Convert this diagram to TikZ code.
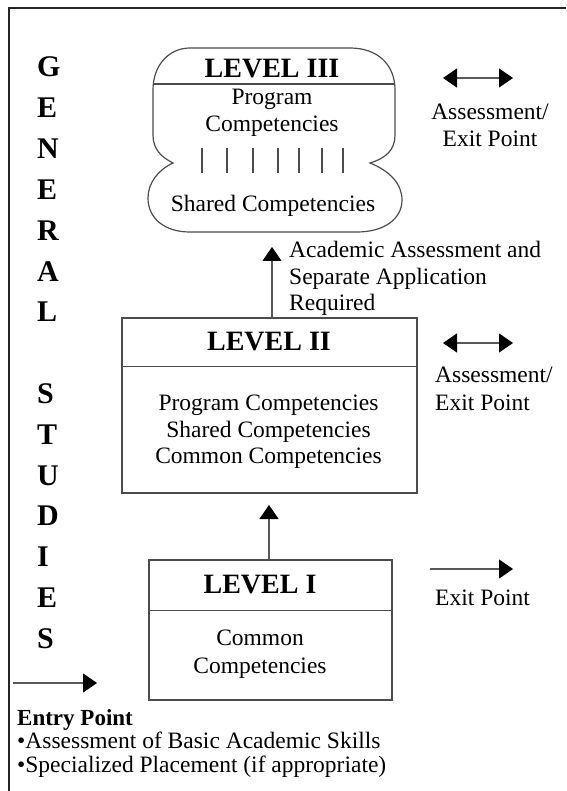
\documentclass[tikz,border=0pt]{standalone}
\usepackage{fontspec}
\setmainfont{Liberation Serif}
\usetikzlibrary{arrows.meta}

\begin{document}
\begin{tikzpicture}[x=1pt, y=-1pt,
    body/.style={font=\fontsize{23.5}{27}\selectfont, inner sep=0pt},
    lvtitle/.style={font=\fontsize{28}{30}\selectfont\bfseries, inner sep=0pt, anchor=base},
    letter/.style={font=\fontsize{30}{30}\selectfont\bfseries, inner sep=0pt, anchor=base west},
    lvbox/.style={draw=black!70, line width=1.2pt, inner sep=0pt},
    arrowup/.style={-{Triangle[length=14pt,width=19pt,color=black]}, draw=black!65, line width=1.2pt},
    twoway/.style={{Triangle[length=14pt,width=19pt,color=black]}-{Triangle[length=14pt,width=19pt,color=black]}, draw=black!65, line width=1.2pt}]
    \useasboundingbox (0,0) rectangle (566,791);
    \draw[line width=1.5pt, black!85] (566,8) -- (9,8) -- (9,791);

    \foreach \ch [count=\i from 0] in {G,E,N,E,R,A,L}
      \node[letter] (gen\i) at (37, 77+40.8*\i) {\ch};
    \foreach \ch [count=\i from 8] in {S,T,U,D,I,E,S}
      \node[letter] (stu\i) at (37, 77+40.8*\i) {\ch};

    \draw[lvbox] (190,48) -- (350,48) .. controls (377,48) and (395,64) .. (395,90)
      -- (395,135) .. controls (395,150) and (386,158) .. (370,163)
      .. controls (390,171) and (402,184) .. (402,200)
      .. controls (402,219) and (384,232) .. (357,232) -- (190,232)
      .. controls (164,232) and (148,218) .. (148,198)
      .. controls (148,183) and (158,170) .. (173,163)
      .. controls (161,157) and (153,149) .. (153,135) -- (153,90)
      .. controls (153,64) and (170,48) .. (190,48) -- cycle;
    \draw[lvbox] (153,84) -- (395,84);
    \foreach \x in {202,227,253,278,299,322,343}
      \draw[black!70, line width=1.2pt] (\x,148) -- (\x,173);
    \node[lvtitle] (lvthree) at (272,78) {LEVEL III};
    \node[body, anchor=base] (prog3) at (272,105) {Program};
    \node[body, anchor=base] (comp3) at (272,132) {Competencies};
    \node[body, anchor=base] (shared3) at (273,212) {Shared Competencies};
    \coordinate (lvthree-in) at (272,247);

    \node[lvbox, minimum width=295pt, minimum height=175pt] (lvtwo) at (269.5,405.5) {};
    \draw[lvbox] ([yshift=-49pt]lvtwo.north west) -- ([yshift=-49pt]lvtwo.north east);
    \node[lvtitle] (lvtwo-t) at (269,350) {LEVEL II};
    \node[body, anchor=base] (prog2) at (268.5,410) {Program Competencies};
    \node[body, anchor=base] (shared2) at (268.5,437) {Shared Competencies};
    \node[body, anchor=base] (common2) at (268.5,463) {Common Competencies};
    \coordinate (lvtwo-in) at (269,505);

    \node[lvbox, minimum width=243pt, minimum height=140pt] (lvone) at (270.5,630) {};
    \draw[lvbox] ([yshift=-51pt]lvone.north west) -- ([yshift=-51pt]lvone.north east);
    \node[lvtitle] (lvone-t) at (260,593) {LEVEL I};
    \node[body, anchor=base] (common1) at (260,645) {Common};
    \node[body, anchor=base] (comp1) at (260,673) {Competencies};

    \draw[arrowup] (lvtwo.north -| lvthree-in) -- (lvthree-in);
    \draw[arrowup] (lvone.north -| lvtwo-in) -- (lvtwo-in);
    \node[body, anchor=base west] (acad1) at (289,258) {Academic Assessment and};
    \node[body, anchor=base west] (acad2) at (289,284) {Separate Application};
    \node[body, anchor=base west] (acad3) at (289,310) {Required};

    \coordinate (exit3-l) at (443,78);
    \coordinate (exit3-r) at (513,78);
    \draw[twoway] (exit3-l) -- (exit3-r);
    \node[body, anchor=base] (exit3-a) at (490,120) {Assessment/};
    \node[body, anchor=base] (exit3-b) at (490,147) {Exit Point};

    \coordinate (exit2-l) at (443,343);
    \coordinate (exit2-r) at (513,343);
    \draw[twoway] (exit2-l) -- (exit2-r);
    \node[body, anchor=base west] (exit2-a) at (435,382) {Assessment/};
    \node[body, anchor=base west] (exit2-b) at (435,410) {Exit Point};

    \coordinate (exit1-l) at (430,569);
    \coordinate (exit1-r) at (513,569);
    \draw[arrowup] (exit1-l) -- (exit1-r);
    \node[body, anchor=base west] (exit1-a) at (435,605) {Exit Point};

    \coordinate (entry-l) at (13,683);
    \coordinate (entry-r) at (97,683);
    \draw[arrowup] (entry-l) -- (entry-r);
    \node[body, anchor=base west, font=\fontsize{23}{27}\selectfont\bfseries] (entry) at (17,725) {Entry Point};
    \node[body, anchor=base west] (entry-a) at (17,748) {•Assessment of Basic Academic Skills};
    \node[body, anchor=base west] (entry-b) at (17,772) {•Specialized Placement (if appropriate)};
  \end{tikzpicture}
\end{document}
